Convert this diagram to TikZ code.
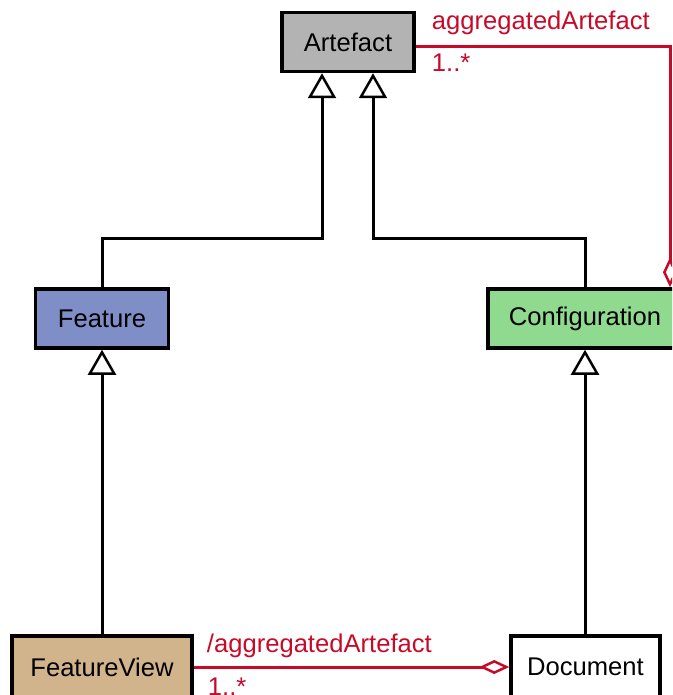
\documentclass[tikz,border=0pt]{standalone}
\usepackage{fontspec}
\setmainfont{Liberation Sans}
\usetikzlibrary{arrows.meta}
\definecolor{artgray}{RGB}{179,179,179}
\definecolor{featblue}{RGB}{128,142,200}
\definecolor{confgreen}{RGB}{144,218,144}
\definecolor{viewtan}{RGB}{210,180,140}
\definecolor{aggred}{RGB}{200,10,40}

\begin{document}
\begin{tikzpicture}[x=1pt,y=-1pt,
	class/.style={draw, line width=3.5pt, minimum height=59pt, inner sep=0pt, font=\fontsize{25.6}{30}\selectfont},
	gen/.style={line width=3pt, -{Triangle[open, fill=white, length=25pt, width=28pt, line width=2.5pt]}},
	agg/.style={aggred, line width=3pt, -{Diamond[open, fill=white, length=30pt, width=14pt, line width=2.5pt]}},
	role/.style={text=aggred, inner sep=0pt, font=\fontsize{25.6}{30}\selectfont}]
	\useasboundingbox (0,0) rectangle (672,695);
	\clip (0,0) rectangle (672,695);

	% classes
	\node[class, fill=artgray, minimum width=132pt] (artefact) at (348,42) {Artefact};
	\node[class, fill=featblue, minimum width=133pt] (feature) at (102,318.5) {Feature};
	\node[class, fill=confgreen, minimum width=194pt] (config) at (585,318.5) {Configuration};
	\node[class, fill=viewtan, minimum width=180pt, minimum height=62pt] (featureview) at (102,667) {FeatureView};
	\node[class, fill=white, minimum width=149pt, minimum height=62pt] (document) at (585.5,667) {Document};

	% generalisations
	\coordinate (genL) at (322,238);
	\coordinate (genR) at (373,238);
	\draw[gen] (feature.north) |- (genL) -- (genL |- artefact.south);
	\draw[gen] (config.north) |- (genR) -- (genR |- artefact.south);
	\draw[gen] (featureview.north) -- (feature.south);
	\draw[gen] (document.north -| config.south) -- (config.south);

	% aggregations
	\coordinate (aggTop) at ([yshift=-4.5pt]artefact.east);
	\draw[agg] (aggTop) -| ([xshift=85pt]config.north);
	\node[role, anchor=base west] (roleTop) at ([xshift=16pt, yshift=16.5pt]aggTop) {aggregatedArtefact};
	\node[role, anchor=base west] (multTop) at ([xshift=16pt, yshift=-25.5pt]aggTop) {1..*};
	\draw[agg] (featureview.east) -- (document.west);
	\node[role, anchor=base west] (roleBot) at ([xshift=13pt, yshift=15pt]featureview.east) {/aggregatedArtefact};
	\node[role, anchor=base west] (multBot) at ([xshift=14pt, yshift=-28pt]featureview.east) {1..*};
\end{tikzpicture}
\end{document}
